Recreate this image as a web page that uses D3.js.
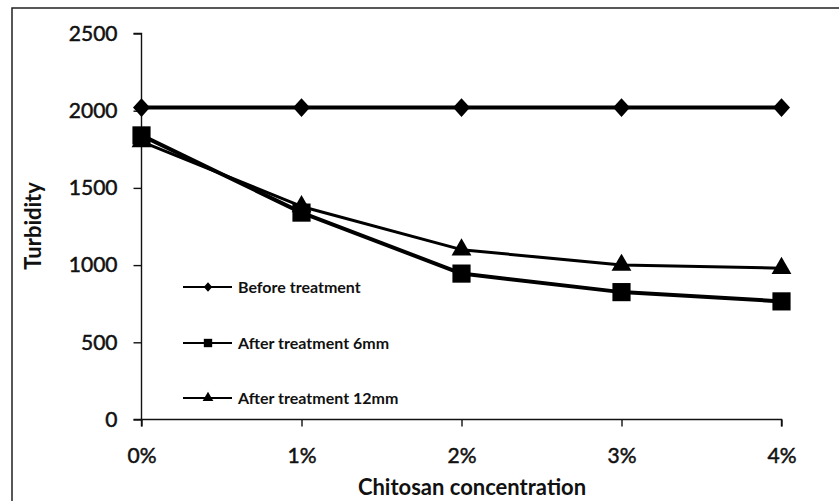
<!DOCTYPE html>
<html>
<head>
<meta charset="utf-8">
<script src="https://cdn.jsdelivr.net/npm/d3@7"></script>
<style>
  body { margin: 0; background: #fff; }
  svg { display: block; font-family: Lato, "Open Sans", sans-serif; }
</style>
</head>
<body>
<div id="chart"></div>
<script>
// Data
var categories = ["0%", "1%", "2%", "3%", "4%"];
var beforeTreatment = [2020, 2020, 2020, 2020, 2020];
var after6mm = [1840, 1340, 945, 825, 765];
var after12mm = [1800, 1380, 1100, 1000, 980];
var yTicks = [0, 500, 1000, 1500, 2000, 2500];

function init() {
    var w = 839;
    var h = 501;

    var xScale = d3.scalePoint()
        .domain(categories)
        .range([141.5, 781.5]);

    var yScale = d3.scaleLinear()
        .domain([0, 2500])
        .range([419.5, 33.5]);

    var svg = d3.select("#chart")
        .append("svg")
        .attr("width", w)
        .attr("height", h);

    // outer frame (only top and left edge visible)
    svg.append("rect")
        .attr("x", 12)
        .attr("y", 8)
        .attr("width", 900)
        .attr("height", 600)
        .attr("fill", "none")
        .attr("stroke", "#222")
        .attr("stroke-width", 1.5);

    var yAxis = d3.axisLeft(yScale)
        .tickValues(yTicks)
        .tickSize(8)
        .tickPadding(16)
        .tickFormat(d3.format("d"));

    var xAxis = d3.axisBottom(xScale)
        .tickSize(7)
        .tickPadding(22);

    var gy = svg.append("g")
        .attr("transform", "translate(141.5,0)")
        .call(yAxis);

    var gx = svg.append("g")
        .attr("transform", "translate(0,419.5)")
        .call(xAxis);

    [gx, gy].forEach(function (g) {
        g.selectAll("path, line").attr("stroke", "#111").attr("stroke-width", 1.4);
        g.select(".domain").attr("d", g === gx
            ? "M141.5,7V0H781.5V7"
            : "M-8,33.5H0V419.5H-8");
        g.selectAll("text")
            .attr("fill", "#111")
            .attr("stroke", "#111")
            .attr("stroke-width", 0.5)
            .style("font-size", "21px")
            .style("font-family", "Lato, sans-serif");
    });

    // axis titles
    svg.append("text")
        .attr("x", 472)
        .attr("y", 495)
        .attr("text-anchor", "middle")
        .style("font-size", "22px")
        .style("font-weight", "bold")
        .attr("fill", "#111")
        .text("Chitosan concentration");

    svg.append("text")
        .attr("transform", "translate(41,226) rotate(-90)")
        .attr("text-anchor", "middle")
        .style("font-size", "22px")
        .style("font-weight", "bold")
        .attr("fill", "#111")
        .text("Turbidity");

    var diamond = {
        draw: function (ctx, size) {
            var r = Math.sqrt(size / 2);
            ctx.moveTo(0, -r * 1.1);
            ctx.lineTo(r, 0);
            ctx.lineTo(0, r * 1.1);
            ctx.lineTo(-r, 0);
            ctx.closePath();
        }
    };

    var series = [
        { name: "Before treatment", values: beforeTreatment, shape: diamond, size: 145, lw: 4, legendSize: 36 },
        { name: "After treatment 6mm", values: after6mm, shape: d3.symbolSquare, size: 330, lw: 4, legendSize: 70 },
        { name: "After treatment 12mm", values: after12mm, shape: d3.symbolTriangle, size: 170, lw: 3, legendSize: 50 }
    ];

    var line = d3.line()
        .x(function (d, i) { return xScale(categories[i]); })
        .y(function (d) { return yScale(d); });

    series.forEach(function (s) {
        svg.append("path")
            .datum(s.values)
            .attr("fill", "none")
            .attr("stroke", "#000")
            .attr("stroke-width", s.lw)
            .attr("stroke-linejoin", "round")
            .attr("d", line);
    });

    series.forEach(function (s) {
        svg.selectAll(null)
            .data(s.values)
            .enter()
            .append("path")
            .attr("transform", function (d, i) {
                return "translate(" + xScale(categories[i]) + "," + yScale(d) + ")";
            })
            .attr("d", d3.symbol().type(s.shape).size(s.size))
            .attr("fill", "#000");
    });

    // legend
    var legendY = [287, 343, 398];
    series.forEach(function (s, i) {
        var g = svg.append("g")
            .attr("transform", "translate(183," + legendY[i] + ")");
        g.append("line")
            .attr("x1", 0).attr("x2", 49)
            .attr("stroke", "#000")
            .attr("stroke-width", 2);
        g.append("path")
            .attr("transform", "translate(25,0)")
            .attr("d", d3.symbol().type(s.shape).size(s.legendSize))
            .attr("fill", "#000");
        g.append("text")
            .attr("x", 55)
            .attr("y", 5.5)
            .style("font-size", "16px")
            .style("font-weight", "bold")
            .attr("fill", "#111")
            .text(s.name);
    });
}

window.onload = init;
</script>
</body>
</html>
